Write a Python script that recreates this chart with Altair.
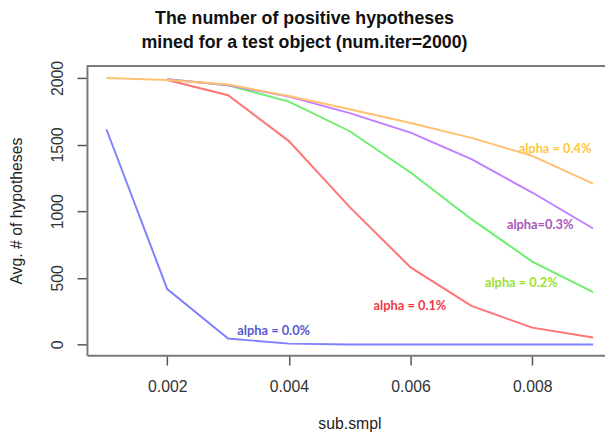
import altair as alt
import pandas as pd

x_vals = [0.001, 0.002, 0.003, 0.004, 0.005, 0.006, 0.007, 0.008, 0.009]
a00 = [1615, 415, 44, 6, 0, 0, 0, 0, 0]
a01 = [None, 1985, 1870, 1526, 1030, 578, 289, 126, 52]
a02 = [None, 1990, 1945, 1822, 1600, 1290, 940, 622, 392]
a03 = [None, 1990, 1945, 1860, 1736, 1590, 1390, 1140, 870]
a04 = [2000, 1985, 1950, 1865, 1765, 1662, 1550, 1415, 1207]

series_names = ["a00", "a01", "a02", "a03", "a04"]
series_vals = [a00, a01, a02, a03, a04]
line_colors = ["#8080ff", "#ff7474", "#6cee6c", "#bf7fff", "#ffc070"]

label_text = ["alpha = 0.0%", "alpha = 0.1%", "alpha = 0.2%", "alpha=0.3%", "alpha = 0.4%"]
label_x = [0.00375, 0.00599, 0.00782, 0.00813, 0.008375]
label_y = [104, 289, 459, 896, 1467]
label_colors = ["#5858d0", "#f03848", "#9ee030", "#a858b8", "#ffc838"]

rows = []
for name, vals in zip(series_names, series_vals):
    for xv, yv in zip(x_vals, vals):
        if yv is not None:
            rows.append({"s": name, "x": xv, "y": yv})
df = pd.DataFrame(rows)
lab = pd.DataFrame({"s": series_names, "t": label_text, "x": label_x, "y": label_y})

xdom = [0.00068, 0.009196]
ydom = [-81, 2089]

xscale = alt.Scale(domain=xdom, nice=False, zero=False)
yscale = alt.Scale(domain=ydom, nice=False, zero=False)

lines = alt.Chart(df).mark_line(strokeWidth=2, clip=True).encode(
    x=alt.X("x:Q", scale=xscale,
            axis=alt.Axis(values=[0.002, 0.004, 0.006, 0.008], format=".3f", title="sub.smpl",
                          grid=False, domainColor="#7a7a7a", domainWidth=2,
                          tickColor="#555555", tickWidth=1.5, tickSize=10,
                          labelFont="Liberation Sans", labelFontSize=16, labelColor="#333333",
                          labelPadding=14, titleFont="Liberation Sans", titleFontSize=16,
                          titleFontWeight="normal", titleColor="#222222",
                          titleX=266, titleY=74, titleBaseline="alphabetic")),
    y=alt.Y("y:Q", scale=yscale,
            axis=alt.Axis(values=[0, 500, 1000, 1500, 2000], format="d", title="Avg. # of hypotheses",
                          grid=False, domainColor="#7a7a7a", domainWidth=2,
                          tickColor="#555555", tickWidth=1.5, tickSize=10,
                          labelFont="Liberation Sans", labelFontSize=16, labelColor="#333333",
                          labelAngle=270, labelAlign="center", labelBaseline="alphabetic",
                          labelPadding=15, titleFont="Liberation Sans", titleFontSize=16,
                          titleFontWeight="normal", titleColor="#222222", titleAngle=270,
                          titleX=-66, titleY=146.5, titleAlign="center",
                          titleBaseline="alphabetic")),
    color=alt.Color("s:N", scale=alt.Scale(domain=series_names, range=line_colors), legend=None),
)

top_line = alt.Chart(lab).mark_rule(color="#7a7a7a", strokeWidth=2).encode(
    x=alt.value(0), x2=alt.value(525), y=alt.value(0)
)

texts = alt.Chart(lab).mark_text(font="Lato", fontSize=13, fontWeight="bold").encode(
    x=alt.X("x:Q", scale=xscale),
    y=alt.Y("y:Q", scale=yscale),
    text="t:N",
    color=alt.Color("s:N", scale=alt.Scale(domain=series_names, range=label_colors), legend=None),
)

chart = alt.layer(lines, texts, top_line).resolve_scale(color="independent").properties(
    width=525, height=293,
    autosize=alt.AutoSizeParams(type="none"),
    padding={"left": 80, "top": 56, "right": 0, "bottom": 78},
    title=alt.TitleParams(
        text=["The number of positive hypotheses", "mined for a test object (num.iter=2000)"],
        font="Liberation Sans", fontSize=18, fontWeight="bold", color="#111111",
        anchor="middle", dx=-42, lineHeight=24, offset=9,
    ),
).configure_view(stroke=None).configure(background="white")

chart.save("out.html", embed_options={"renderer": "svg", "actions": False})
